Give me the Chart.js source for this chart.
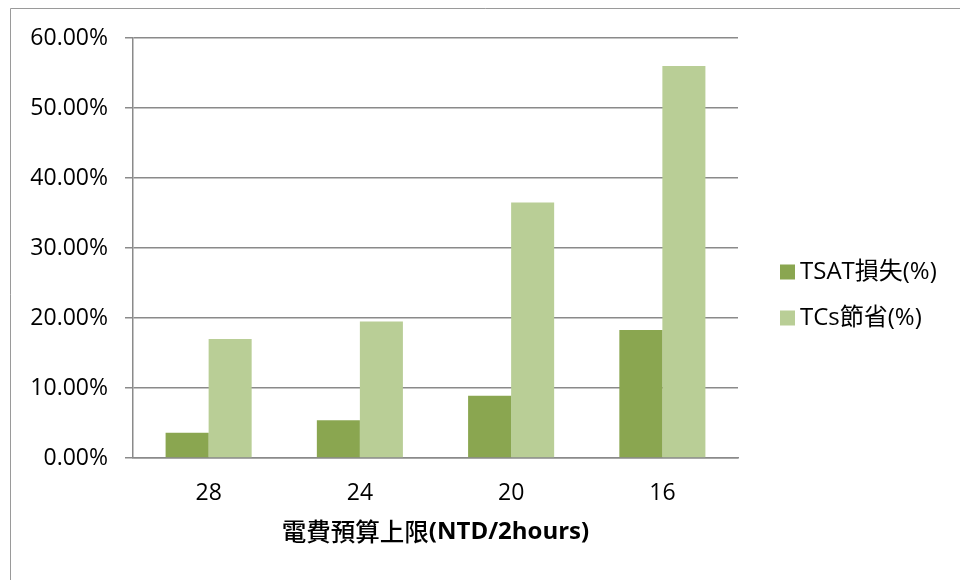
<!DOCTYPE html>
<html>
<head>
<meta charset="utf-8">
<script src="https://cdn.jsdelivr.net/npm/chart.js@4"></script>
<style>
  html, body { margin: 0; padding: 0; background: #fff; }
  #wrap { width: 960px; height: 580px; }
</style>
</head>
<body>
<div id="wrap"><canvas id="c" width="960" height="580"></canvas></div>
<script>
// Electricity budget caps (NTD per 2 hours)
const categories = ['28', '24', '20', '16'];
// Series values in percent
const tsatLoss = [3.6, 5.4, 8.9, 18.3];
const tcsSaving = [17.0, 19.5, 36.5, 56.0];
const seriesNames = ['TSAT損失(%)', 'TCs節省(%)'];
const axisTitleCjk = '電費預算上限';
const axisTitleLatin = '(NTD/2hours)';

const LATIN = "'Open Sans', 'Noto Sans CJK TC', sans-serif";
const CJK = "'Noto Sans CJK TC', sans-serif";
const GRID = '#8a8a8a';

// White page with a thin frame along the top and left edges
const framePlugin = {
  id: 'frame',
  beforeDraw(chart) {
    const ctx = chart.ctx;
    ctx.save();
    ctx.fillStyle = '#fff';
    ctx.fillRect(0, 0, chart.width, chart.height);
    ctx.strokeStyle = '#9a9a9a';
    ctx.lineWidth = 1;
    ctx.beginPath();
    ctx.moveTo(10.5, chart.height);
    ctx.lineTo(10.5, 8.5);
    ctx.lineTo(chart.width, 8.5);
    ctx.stroke();
    ctx.restore();
  }
};

// Legend on the right and the mixed-weight x-axis title
const annotatePlugin = {
  id: 'annotate',
  afterDraw(chart) {
    const ctx = chart.ctx;
    ctx.save();
    ctx.textBaseline = 'middle';
    chart.data.datasets.forEach((ds, i) => {
      const cy = 272 + i * 46;
      ctx.fillStyle = ds.backgroundColor;
      ctx.fillRect(780, cy - 7.5, 15, 15);
      ctx.fillStyle = '#000';
      ctx.font = '24px ' + LATIN;
      ctx.textAlign = 'left';
      ctx.fillText(ds.label, 800, cy);
    });

    const area = chart.chartArea;
    const cx = (area.left + area.right) / 2;
    const fontA = '500 24.5px ' + CJK;
    const fontB = 'bold 24px ' + LATIN;
    ctx.font = fontA;
    const wA = ctx.measureText(axisTitleCjk).width;
    ctx.font = fontB;
    const wB = ctx.measureText(axisTitleLatin).width;
    let x = cx - (wA + wB) / 2;
    const y = 532;
    ctx.textAlign = 'left';
    ctx.fillStyle = '#000';
    ctx.font = fontA;
    ctx.fillText(axisTitleCjk, x, y);
    ctx.font = fontB;
    ctx.fillText(axisTitleLatin, x + wA, y);
    ctx.restore();
  }
};

new Chart(document.getElementById('c'), {
  type: 'bar',
  data: {
    labels: categories,
    datasets: [
      {
        label: seriesNames[0],
        data: tsatLoss,
        backgroundColor: '#8aa650',
        borderWidth: 0
      },
      {
        label: seriesNames[1],
        data: tcsSaving,
        backgroundColor: '#b9ce96',
        borderWidth: 0
      }
    ]
  },
  options: {
    responsive: false,
    animation: false,
    devicePixelRatio: 1,
    layout: { padding: { top: 38, right: 222, bottom: 0, left: 0 } },
    plugins: {
      legend: { display: false },
      tooltip: { enabled: false }
    },
    datasets: {
      bar: { categoryPercentage: 0.569, barPercentage: 1 }
    },
    scales: {
      x: {
        afterFit(s) { s.height = 122; },
        grid: { display: false, drawTicks: false },
        border: { display: true, color: GRID, width: 1.5 },
        ticks: {
          color: '#000',
          padding: 22,
          font: { family: LATIN, size: 23 }
        }
      },
      y: {
        min: 0,
        max: 60,
        afterFit(s) { s.width = 133; },
        grid: { color: GRID, lineWidth: 1.5, tickLength: 8, drawTicks: true },
        border: { display: true, color: GRID, width: 1.5 },
        ticks: {
          stepSize: 10,
          color: '#000',
          padding: 17,
          font: { family: LATIN, size: 23 },
          callback: v => v.toFixed(2) + '%'
        }
      }
    }
  },
  plugins: [framePlugin, annotatePlugin]
});
</script>
</body>
</html>
